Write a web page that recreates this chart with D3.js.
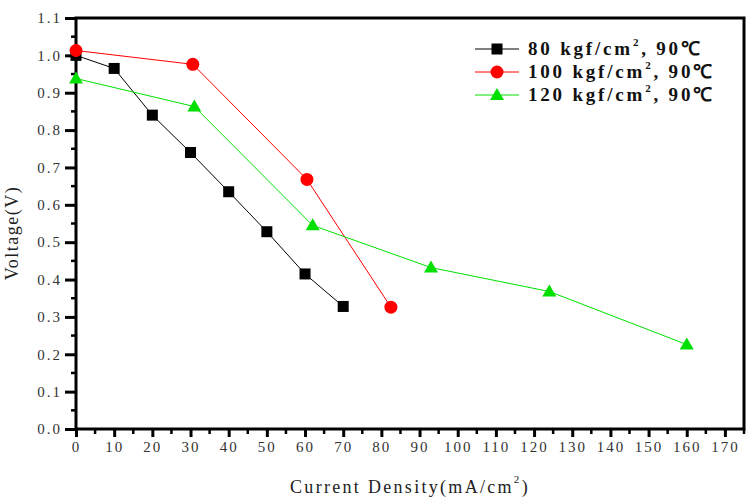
<!DOCTYPE html>
<html><head><meta charset="utf-8">
<script src="https://cdn.jsdelivr.net/npm/d3@7"></script>
<style>body{margin:0;background:#fff}</style>
</head><body>
<script>
const seriesNames = ["80 kgf/cm", "100 kgf/cm", "120 kgf/cm"];
const seriesColors = ["#000000", "#ff0000", "#00e000"];
const seriesShapes = ["square", "circle", "triangle"];
const x80 = [0, 10, 20, 30, 40, 50, 60, 70];
const y80 = [1.00, 0.965, 0.84, 0.74, 0.635, 0.528, 0.415, 0.328];
const x100 = [0, 30.6, 60.5, 82.5];
const y100 = [1.013, 0.976, 0.668, 0.326];
const x120 = [0, 31, 62, 93, 124, 160];
const y120 = [0.938, 0.863, 0.545, 0.432, 0.368, 0.226];
const xTicks = d3.range(0, 171, 10);
const yTicks = d3.range(0, 1.101, 0.1);

const W = 756, H = 500;
const svg = d3.select("body").append("svg").attr("width", W).attr("height", H);
const mLeft = 76, mRight = 744, mTop = 18, mBottom = 429;
const x = d3.scaleLinear().domain([0, 175]).range([mLeft, mRight]);
const y = d3.scaleLinear().domain([0, 1.1]).range([mBottom, mTop]);

const series = [
  {xs: x80, ys: y80}, {xs: x100, ys: y100}, {xs: x120, ys: y120}
];

// minor ticks
const g = svg.append("g");
d3.range(5, 176, 10).forEach(v => {
  g.append("line").attr("x1", x(v)).attr("x2", x(v)).attr("y1", mBottom).attr("y2", mBottom + 5)
   .attr("stroke", "#000").attr("stroke-width", 2.5);
});
d3.range(0.05, 1.1, 0.1).forEach(v => {
  g.append("line").attr("x1", mLeft).attr("x2", mLeft - 5).attr("y1", y(v)).attr("y2", y(v))
   .attr("stroke", "#000").attr("stroke-width", 2.5);
});

const xAxis = d3.axisBottom(x).tickValues(xTicks).tickSize(8).tickPadding(4).tickFormat(d3.format("d"));
const yAxis = d3.axisLeft(y).tickValues(yTicks).tickSize(11).tickPadding(3).tickFormat(d3.format(".1f"));
const gx = svg.append("g").attr("transform", `translate(0,${mBottom})`).call(xAxis);
const gy = svg.append("g").attr("transform", `translate(${mLeft},0)`).call(yAxis);
[gx, gy].forEach(a => {
  a.select(".domain").remove();
  a.selectAll(".tick line").attr("stroke", "#000").attr("stroke-width", 3);
  a.selectAll("text").attr("font-family", "Liberation Serif, serif").attr("font-size", 15)
    .attr("fill", "#333").attr("letter-spacing", 2);
});

// frame
svg.append("rect").attr("x", mLeft).attr("y", mTop).attr("width", mRight - mLeft).attr("height", mBottom - mTop)
  .attr("fill", "none").attr("stroke", "#000").attr("stroke-width", 3);

function drawMarker(sel, shape, color, cx, cy) {
  if (shape === "square") {
    sel.append("rect").attr("x", cx - 5.5).attr("y", cy - 5.5).attr("width", 11).attr("height", 11).attr("fill", color);
  } else if (shape === "circle") {
    sel.append("circle").attr("cx", cx).attr("cy", cy).attr("r", 6.5).attr("fill", color);
  } else {
    sel.append("path").attr("d", `M${cx},${cy - 7}L${cx + 7},${cy + 5}L${cx - 7},${cy + 5}Z`).attr("fill", color);
  }
}

const line = d3.line();
series.forEach((s, i) => {
  const pts = s.xs.map((v, j) => [x(v), y(s.ys[j])]);
  svg.append("path").attr("d", line(pts)).attr("fill", "none").attr("stroke", seriesColors[i]).attr("stroke-width", 1);
  const mg = svg.append("g");
  pts.forEach(p => drawMarker(mg, seriesShapes[i], seriesColors[i], p[0], p[1]));
});

// legend
const legY = [49, 72, 95];
seriesNames.forEach((n, i) => {
  const ly = legY[i];
  svg.append("line").attr("x1", 475).attr("x2", 519).attr("y1", ly).attr("y2", ly).attr("stroke", seriesColors[i]).attr("stroke-width", 1);
  drawMarker(svg, seriesShapes[i], seriesColors[i], 497, ly);
  const t = svg.append("text").attr("x", 528).attr("y", ly + 6)
    .attr("font-family", "Liberation Serif, serif").attr("font-size", 19).attr("font-weight", "bold")
    .attr("fill", "#111").attr("letter-spacing", 2.8);
  t.append("tspan").text(n);
  t.append("tspan").attr("dy", -9).attr("font-size", 11).text("2");
  t.append("tspan").attr("dy", 9).text(", 90℃");
});

// axis titles
const xt = svg.append("text").attr("x", 410).attr("y", 493).attr("text-anchor", "middle")
  .attr("font-family", "Liberation Serif, serif").attr("font-size", 18).attr("fill", "#222").attr("letter-spacing", 2.3);
xt.append("tspan").text("Current Density(mA/cm");
xt.append("tspan").attr("dy", -10).attr("font-size", 11).text("2");
xt.append("tspan").attr("dy", 10).text(")");

svg.append("text").attr("transform", "translate(18,233) rotate(-90)").attr("text-anchor", "middle")
  .attr("font-family", "Liberation Serif, serif").attr("font-size", 18).attr("fill", "#222")
  .attr("letter-spacing", 1.5)
  .text("Voltage(V)");
</script>
</body></html>
